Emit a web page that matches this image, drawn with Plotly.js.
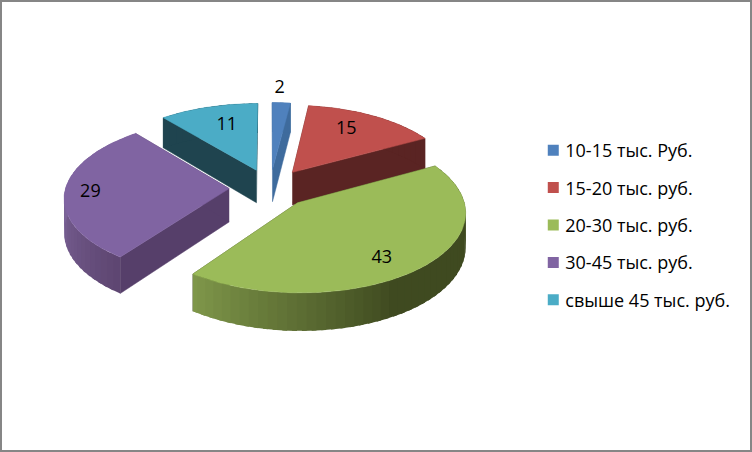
<!DOCTYPE html>
<html>
<head>
<meta charset="utf-8">
<script src="https://cdn.plot.ly/plotly-3.0.1.min.js"></script>
<style>html,body{margin:0;padding:0;background:#fff}#chart{width:752px;height:452px}</style>
</head>
<body>
<div id="chart"></div>
<script>
// --- data ---
var categories = ["10-15 тыс. Руб.", "15-20 тыс. руб.", "20-30 тыс. руб.", "30-45 тыс. руб.", "свыше 45 тыс. руб."];
var values = [2, 15, 43, 29, 11];

// --- style ---
var topColors = ["#4F81BD", "#C0504D", "#9BBB59", "#8064A2", "#4BACC6"];
var sideColors = ["#3E6B9D", "#5A2423", "#3F4A20", "#563F6A", "#1F444F"];
var rimLight = ["#3E6B9D", "#5A2423", "#7E9649", "#7C6499", "#1F444F"];
var rimDark = ["#3E6B9D", "#5A2423", "#3F4A20", "#5D4570", "#1F444F"];
var labelRadius = [1.27, 0.746, 0.772, 0.845, 0.712];
var labelShift = [-1.2, -4.7, 4.8, 0, 3];
var drawOrder = [4, 0, 1, 3, 2];

// --- projection of the tilted, exploded pie ---
var cx = 270, cy = 188, scaleX = 163.5, scaleY = 77.3, persp = 0.105, thickness = 33.3, explode = 0.25, labelDrop = 2;
var total = values.reduce(function (a, b) { return a + b; }, 0);
function rad(d) { return d * Math.PI / 180; }
function project(u, v, drop) {
  var d = 1 + persp * v;
  return [cx + scaleX * u / d, cy - scaleY * v / d + (drop ? thickness / d : 0)];
}
var slices = [], running = 0;
values.forEach(function (val) {
  var a0 = running / total * 360, a1 = (running + val) / total * 360;
  running += val;
  var mid = (a0 + a1) / 2;
  slices.push({ a0: a0, a1: a1, mid: mid, ox: explode * Math.sin(rad(mid)), oy: explode * Math.cos(rad(mid)) });
});
function rimPoint(s, a, drop) {
  return project(s.ox + Math.sin(rad(a)), s.oy + Math.cos(rad(a)), drop);
}
function apexPoint(s, drop) { return project(s.ox, s.oy, drop); }
function poly(pts, color, name, width) {
  return {
    type: "scatter", mode: "lines", x: pts.map(function (p) { return p[0]; }), y: pts.map(function (p) { return p[1]; }),
    fill: "toself", fillcolor: color, line: { color: color, width: width === undefined ? 0.5 : width }, hoverinfo: "skip", showlegend: false, name: name
  };
}
function hex(c) { return [1, 3, 5].map(function (i) { return parseInt(c.substr(i, 2), 16); }); }
function mix(c1, c2, t) {
  var a = hex(c1), b = hex(c2);
  return "rgb(" + a.map(function (v, i) { return Math.round(v + (b[i] - v) * t); }).join(",") + ")";
}

var traces = [];
drawOrder.forEach(function (i) {
  var s = slices[i];
  // radial walls
  [s.a0, s.a1].forEach(function (a) {
    traces.push(poly([apexPoint(s, false), rimPoint(s, a, false), rimPoint(s, a, true), apexPoint(s, true)], sideColors[i], categories[i]));
  });
  // outer wall, in short shaded strips that overlap their neighbours to hide seams
  var step = 3;
  for (var a = s.a0; a < s.a1; a += step) {
    var b = Math.min(a + step, s.a1), e = Math.min(b + 1.5, s.a1);
    var pts = [rimPoint(s, a, false), rimPoint(s, e, false), rimPoint(s, e, true), rimPoint(s, a, true)];
    // shading: darkest toward the right of the pie, lighter toward the lower left
    var t = Math.max(0, Math.min(1, (215 - (a + b) / 2) / 65));
    if (i === 3) t = Math.max(0, Math.min(1, (270 - (a + b) / 2) / 55));
    traces.push(poly(pts, mix(rimLight[i], rimDark[i], t), categories[i], 0));
  }
  // top face
  var top = [apexPoint(s, false)];
  for (var c = s.a0; c < s.a1; c += 1) top.push(rimPoint(s, c, false));
  top.push(rimPoint(s, s.a1, false));
  top.push(apexPoint(s, false));
  traces.push(poly(top, topColors[i], categories[i]));
});

// data labels
var lx = [], ly = [], lt = [];
values.forEach(function (val, i) {
  var s = slices[i], ang = rad(s.mid + labelShift[i]);
  var p = project(s.ox + labelRadius[i] * Math.sin(ang), s.oy + labelRadius[i] * Math.cos(ang), false);
  lx.push(p[0]); ly.push(p[1] + labelDrop); lt.push(String(val));
});
var fontName = "'Open Sans', 'Noto Sans', sans-serif";
traces.push({
  type: "scatter", mode: "text", x: lx, y: ly, text: lt, textposition: "middle center",
  textfont: { family: fontName, size: 18, color: "#000000" }, hoverinfo: "skip", showlegend: false
});

// legend entries
categories.forEach(function (name, i) {
  traces.push({
    type: "scatter", mode: "markers", x: [null], y: [null], name: name, legendgroup: "g" + i,
    marker: { symbol: "square", size: 11, color: topColors[i] }, showlegend: true
  });
});

var layout = {
  width: 752, height: 452, margin: { l: 0, r: 0, t: 0, b: 0 },
  paper_bgcolor: "#ffffff", plot_bgcolor: "#ffffff",
  xaxis: { range: [0, 752], visible: false, fixedrange: true },
  yaxis: { range: [452, 0], visible: false, fixedrange: true },
  showlegend: true,
  legend: {
    x: 0.6985, y: 0.708, xanchor: "left", yanchor: "top", tracegroupgap: 11,
    font: { family: fontName, size: 18, color: "#000000" }, bgcolor: "rgba(0,0,0,0)", itemclick: false, itemdoubleclick: false
  },
  shapes: [{ type: "rect", xref: "paper", yref: "paper", x0: 0, x1: 1, y0: 0, y1: 1, line: { color: "#868686", width: 4 }, fillcolor: "rgba(0,0,0,0)" }]
};
Plotly.newPlot("chart", traces, layout, { displayModeBar: false, staticPlot: true }).then(function () {
  document.querySelectorAll(".legend .legendsymbols").forEach(function (g) {
    g.setAttribute("transform", "translate(8,0)");
  });
});
</script>
</body>
</html>
